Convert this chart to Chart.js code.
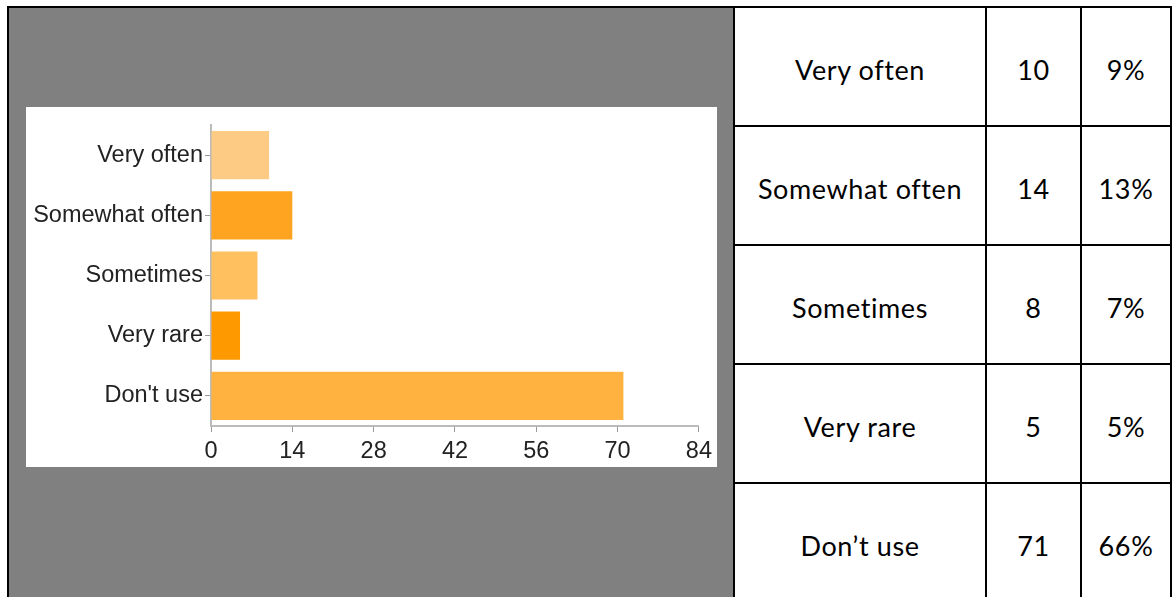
<!DOCTYPE html>
<html>
<head>
<meta charset="utf-8">
<script src="https://cdn.jsdelivr.net/npm/chart.js@4.4.1/dist/chart.umd.min.js"></script>
<style>
  html, body { margin: 0; padding: 0; background: #fff; }
  body { width: 1172px; height: 597px; overflow: hidden; position: relative; }
  #grid {
    position: absolute; left: 7px; top: 6px;
    border-collapse: collapse; table-layout: fixed;
  }
  #grid td {
    border: 2px solid #000; padding: 0;
    height: 111px; padding-top: 6px;
    text-align: center; vertical-align: middle;
    font-family: "Lato", sans-serif; font-size: 27px; letter-spacing: 0.6px; color: #000;
  }
  #grid td.panel { background: #808080; padding: 0; }
  #chartBox {
    position: absolute; left: 26px; top: 107px;
    width: 691px; height: 360px; background: #fff;
  }
  #answers { filter: blur(0.4px); }
</style>
</head>
<body>
<table id="grid">
  <colgroup>
    <col style="width:726px">
    <col style="width:252px">
    <col style="width:95px">
    <col style="width:90px">
  </colgroup>
  <tbody id="rows"></tbody>
</table>
<div id="chartBox"><canvas id="answers" width="691" height="360"></canvas></div>

<script>
// survey answers
const categories = ["Very often", "Somewhat often", "Sometimes", "Very rare", "Don't use"];
const rowLabels = ["Very often", "Somewhat often", "Sometimes", "Very rare", "Don\u2019t use"];
const counts = [10, 14, 8, 5, 71];
const percents = ["9%", "13%", "7%", "5%", "66%"];
const barColors = ["#fecb84", "#ffa420", "#ffc060", "#ff9900", "#ffb240"];
const xTicks = [0, 14, 28, 42, 56, 70, 84];

// summary table on the right, first cell holds the chart panel
let rows = document.getElementById("rows");
categories.forEach((c, i) => {
  let tr = document.createElement("tr");
  if (i == 0) {
    let panel = document.createElement("td");
    panel.className = "panel";
    panel.rowSpan = categories.length;
    tr.appendChild(panel);
  }
  [rowLabels[i], counts[i], percents[i]].forEach((v) => {
    let td = document.createElement("td");
    td.textContent = v;
    tr.appendChild(td);
  });
  rows.appendChild(tr);
});

const tickFont = { family: "Liberation Sans, Arial, sans-serif", size: 23.5 };

new Chart(document.getElementById("answers"), {
  type: "bar",
  data: {
    labels: categories,
    datasets: [
      {
        data: counts,
        backgroundColor: barColors,
        borderWidth: 0,
        barPercentage: 0.8,
        categoryPercentage: 1,
      },
    ],
  },
  options: {
    indexAxis: "y",
    responsive: false,
    animation: false,
    devicePixelRatio: 1,
    layout: { padding: { top: 18, right: 15, left: 0, bottom: 0 } },
    plugins: { legend: { display: false }, tooltip: { enabled: false } },
    scales: {
      x: {
        min: 0,
        max: 84,
        afterBuildTicks: (s) => (s.ticks = xTicks.map((v) => ({ value: v }))),
        ticks: { font: tickFont, color: "#222", padding: 5, maxRotation: 0 },
        grid: { drawOnChartArea: false, tickLength: 6, color: "#999" },
        border: { color: "#bbb", width: 2 },
        afterFit: (s) => (s.height = 41),
      },
      y: {
        ticks: { font: tickFont, color: "#222", padding: 2 },
        grid: { drawOnChartArea: false, offset: false, tickLength: 6, color: "#999" },
        border: { color: "#bbb", width: 2 },
        afterFit: (s) => (s.width = 185),
      },
    },
  },
});
</script>
</body>
</html>
